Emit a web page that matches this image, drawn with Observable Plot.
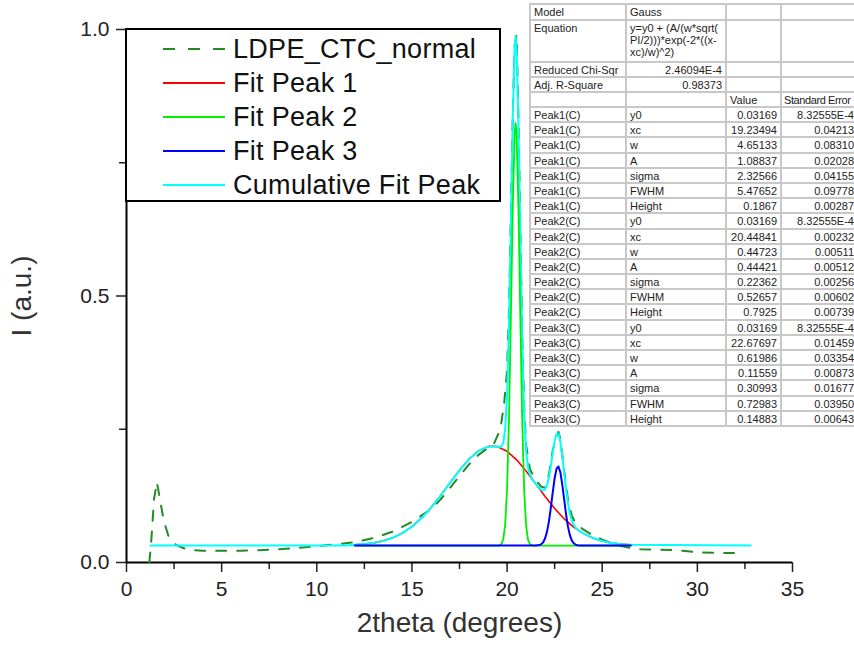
<!DOCTYPE html>
<html><head><meta charset="utf-8">
<script src="https://cdn.jsdelivr.net/npm/d3@7"></script>
<script src="https://cdn.jsdelivr.net/npm/@observablehq/plot@0.6"></script>
<style>
html,body{margin:0;padding:0;background:#fff;overflow:hidden;width:854px;height:650px;}
#wrap{position:relative;width:854px;height:650px;overflow:hidden;font-family:"Liberation Sans",Arial,sans-serif;}
#wrap svg.plot{position:absolute;left:0;top:0;}
#legend{position:absolute;left:125px;top:28px;width:372px;height:170px;border:2px solid #000;background:#fff;}
.lrow{position:absolute;left:0;height:34px;width:372px;}
.lrow svg{position:absolute;left:36px;top:0;}
.lrow span{position:absolute;left:106px;top:2px;font-size:27px;letter-spacing:0.3px;line-height:30px;color:#111;white-space:nowrap;}
#tbl{position:absolute;left:529px;top:3px;width:325px;border-collapse:collapse;table-layout:fixed;border:2px solid #000;border-right:none;background:#fff;font-size:11px;color:#222;}
#tbl td{border:2px solid #c8c8c8;padding:1px 3px 0 3px;vertical-align:top;line-height:12px;white-space:nowrap;overflow:hidden;}
#tbl td.r{text-align:right;}
#tbl td.last{border-right:none;padding-right:1px;}
#tbl td.hdr{padding-left:2px;letter-spacing:-0.4px;}
</style></head><body><div id="wrap"></div>
<script>
// ---------- data ----------
const dataX = [1.2,1.3,1.45,1.6,1.75,1.95,2.2,2.6,3.2,4,5,6,7,8,9,10,11,12,13,14,15,16,16.5,17,17.5,18,18.5,19,19.3,19.65,19.85,20.0,20.1,20.2,20.3,20.4,20.5,20.6,20.7,20.8,20.9,21.0,21.2,21.5,21.8,22.0,22.2,22.4,22.6,22.7,22.8,23.0,23.2,23.4,23.6,24.0,24.5,25,25.5,26,26.5,27,28,29,29.5,30,31,32.5];
const dataY = [0,0.04,0.12,0.151,0.12,0.08,0.05,0.033,0.024,0.022,0.022,0.022,0.023,0.025,0.027,0.031,0.034,0.038,0.046,0.058,0.076,0.1,0.118,0.14,0.162,0.184,0.202,0.215,0.222,0.25,0.3,0.36,0.47,0.65,0.84,0.97,0.99,0.83,0.62,0.42,0.29,0.22,0.175,0.155,0.142,0.14,0.165,0.21,0.238,0.245,0.232,0.172,0.118,0.088,0.074,0.062,0.051,0.043,0.036,0.031,0.027,0.025,0.024,0.023,0.021,0.019,0.018,0.018];

const peak1X = [12,12.5,13,13.5,14,14.5,15,15.5,16,16.5,17,17.5,18,18.5,19,19.25,19.5,20,20.5,21,21.5,22,22.5,23,23.5,24,24.5,25,25.5,26,26.5];
const peak1Y = [0.0332,0.0345,0.0368,0.0406,0.0465,0.0552,0.0673,0.0831,0.1026,0.1252,0.1494,0.1730,0.1938,0.2093,0.2174,0.2184,0.2172,0.2086,0.1927,0.1717,0.1479,0.1238,0.1014,0.0820,0.0664,0.0546,0.0461,0.0403,0.0366,0.0344,0.0331];

const peak2X = [12,19.4,19.5,19.6,19.7,19.8,19.9,20.0,20.1,20.2,20.3,20.4,20.45,20.5,20.6,20.7,20.8,20.9,21.0,21.1,21.2,21.3,21.4,21.5,26.5];
const peak2Y = [0.0317,0.0317,0.0318,0.0323,0.0346,0.0436,0.0710,0.1382,0.2678,0.4602,0.6683,0.8061,0.8242,0.8030,0.6607,0.4517,0.2613,0.1344,0.0693,0.0430,0.0345,0.0323,0.0318,0.0317,0.0317];

const peak3X = [12,21.3,21.5,21.7,21.8,21.9,22.0,22.1,22.2,22.3,22.4,22.5,22.6,22.7,22.8,22.9,23.0,23.1,23.2,23.3,23.4,23.5,23.6,23.7,23.9,24.1,26.5];
const peak3Y = [0.0317,0.0317,0.0318,0.0327,0.0344,0.0381,0.0454,0.0580,0.0772,0.1027,0.1315,0.1581,0.1760,0.1801,0.1693,0.1466,0.1182,0.0903,0.0675,0.0514,0.0415,0.0361,0.0335,0.0323,0.0318,0.0317,0.0317];

const cumX = [1.26,11.5,12,12.5,13,13.5,14,14.5,15,15.5,16,16.5,17,17.5,18,18.5,19,19.4,19.5,19.6,19.7,19.8,19.9,20.0,20.1,20.2,20.3,20.4,20.45,20.5,20.6,20.7,20.8,20.9,21.0,21.1,21.2,21.3,21.4,21.5,21.6,21.7,21.8,21.9,22.0,22.1,22.2,22.3,22.4,22.5,22.6,22.7,22.8,22.9,23.0,23.1,23.2,23.3,23.4,23.5,23.6,23.7,23.8,24.0,24.5,25,25.5,26,26.5,32.8];
const cumY = [0.0317,0.0318,0.0332,0.0345,0.0368,0.0406,0.0465,0.0552,0.0673,0.0831,0.1026,0.1252,0.1494,0.1730,0.1938,0.2093,0.2174,0.2179,0.2173,0.2167,0.2176,0.2249,0.2503,0.3151,0.4420,0.6315,0.8364,0.9708,0.9871,0.9641,0.8179,0.6048,0.4101,0.2789,0.2093,0.1784,0.1651,0.1581,0.1529,0.1480,0.1433,0.1392,0.1360,0.1349,0.1375,0.1454,0.1601,0.1810,0.2055,0.2278,0.2415,0.2416,0.2269,0.2005,0.1685,0.1373,0.1112,0.0920,0.0790,0.0708,0.0655,0.0619,0.0591,0.0546,0.0461,0.0403,0.0366,0.0344,0.0331,0.0317];

const xMajorTicks = [0,5,10,15,20,25,30,35];
const xMinorTicks = [2.5,7.5,12.5,17.5,22.5,27.5,32.5];
const yMajorTicks = [0,0.5,1.0];
const yMinorTicks = [0.25,0.75];

const xTitle = "2theta (degrees)";
const yTitle = "I (a.u.)";

const legendLabels = ["LDPE_CTC_normal","Fit Peak 1","Fit Peak 2","Fit Peak 3","Cumulative Fit Peak"];

// fit report table
const tableHead = [
  ["Model", "Gauss", "", ""],
  ["Equation", ["y=y0 + (A/(w*sqrt(", "PI/2)))*exp(-2*((x-", "xc)/w)^2)"], "", ""],
  ["Reduced Chi-Sqr", "2.46094E-4", "", ""],
  ["Adj. R-Square", "0.98373", "", ""],
  ["", "", "Value", "Standard Error"]
];
const paramPeaks = ["Peak1(C)","Peak2(C)","Peak3(C)"];
const paramNames = ["y0","xc","w","A","sigma","FWHM","Height"];
const paramValues = [
  ["0.03169","19.23494","4.65133","1.08837","2.32566","5.47652","0.1867"],
  ["0.03169","20.44841","0.44723","0.44421","0.22362","0.52657","0.7925"],
  ["0.03169","22.67697","0.61986","0.11559","0.30993","0.72983","0.14883"]
];
const paramErrors = [
  ["8.32555E-4","0.04213","0.08310","0.02028","0.04155","0.09778","0.00287"],
  ["8.32555E-4","0.00232","0.00511","0.00512","0.00256","0.00602","0.00739"],
  ["8.32555E-4","0.01459","0.03354","0.00873","0.01677","0.03950","0.00643"]
];

// ---------- styles ----------
const colData = "#228b22", colP1 = "#ff0000", colP2 = "#00ee00", colP3 = "#0000ff", colCum = "#00ffff";
const legendStyles = [
  {stroke: colData, dash: "12,13"},
  {stroke: colP1, dash: null},
  {stroke: colP2, dash: null},
  {stroke: colP3, dash: null},
  {stroke: colCum, dash: null}
];

const rows = (xs, ys) => xs.map((x, i) => ({x, y: ys[i]}));

const plot = Plot.plot({
  width: 854, height: 650,
  marginLeft: 126, marginRight: 62, marginTop: 29, marginBottom: 88,
  x: {domain: [0, 35]},
  y: {domain: [0, 1]},
  style: {fontFamily: "'Liberation Sans', Arial, sans-serif", background: "transparent", color: "#222"},
  marks: [
    Plot.axisX(xMinorTicks, {tickSize: 7, tickFormat: () => "", strokeWidth: 1.5, label: null}),
    Plot.axisX(xMajorTicks, {tickSize: 10, tickPadding: 9, fontSize: 21, strokeWidth: 1.5, label: null, tickFormat: d3.format("d")}),
    Plot.axisY(yMinorTicks, {tickSize: 7, tickFormat: () => "", strokeWidth: 1.5, label: null}),
    Plot.axisY(yMajorTicks, {tickSize: 10, tickPadding: 7, fontSize: 21, strokeWidth: 1.5, label: null, tickFormat: d3.format(".1f")}),
    Plot.ruleY([0], {stroke: "#000", strokeWidth: 2}),
    Plot.ruleX([0], {stroke: "#000", strokeWidth: 2}),
    Plot.line(rows(dataX, dataY), {x: "x", y: "y", stroke: colData, strokeWidth: 2, strokeDasharray: "10,11"}),
    Plot.line(rows(peak1X, peak1Y), {x: "x", y: "y", stroke: colP1, strokeWidth: 1.6}),
    Plot.line(rows(cumX, cumY), {x: "x", y: "y", stroke: colCum, strokeWidth: 2}),
    Plot.line(rows(peak2X, peak2Y), {x: "x", y: "y", stroke: colP2, strokeWidth: 1.8}),
    Plot.line(rows(peak3X, peak3Y), {x: "x", y: "y", stroke: colP3, strokeWidth: 2}),
    Plot.text([xTitle], {frameAnchor: "bottom", dy: 69, fontSize: 28, fill: "#333"}),
    Plot.text([yTitle], {frameAnchor: "left", dx: -104, rotate: -90, textAnchor: "middle", fontSize: 28, fill: "#333"})
  ]
});
plot.classList.add("plot");
const wrap = document.getElementById("wrap");
wrap.appendChild(plot);

// legend
const legend = document.createElement("div");
legend.id = "legend";
legendLabels.forEach((lab, i) => {
  const r = document.createElement("div");
  r.className = "lrow";
  r.style.top = (2 + i * 34) + "px";
  const st = legendStyles[i];
  r.innerHTML = `<svg width="64" height="34"><line x1="0" x2="62" y1="17" y2="17" stroke="${st.stroke}" stroke-width="2" ${st.dash ? `stroke-dasharray="${st.dash}"` : ""}/></svg><span></span>`;
  r.querySelector("span").textContent = lab;
  legend.appendChild(r);
});
wrap.appendChild(legend);

// fit table
const tbl = document.createElement("table");
tbl.id = "tbl";
const cg = document.createElement("colgroup");
[96, 100, 55, 74].forEach(w => { const c = document.createElement("col"); c.style.width = w + "px"; cg.appendChild(c); });
tbl.appendChild(cg);
const addRow = (cells, h, aligns, isHeader) => {
  const tr = document.createElement("tr");
  tr.style.height = h + "px";
  cells.forEach((c, j) => {
    const td = document.createElement("td");
    const cls = [];
    if (aligns[j]) cls.push("r");
    if (j === cells.length - 1) cls.push("last");
    if (isHeader && j === cells.length - 1) cls.push("hdr");
    td.className = cls.join(" ");
    if (Array.isArray(c)) { c.forEach((ln, k) => { if (k) td.appendChild(document.createElement("br")); td.appendChild(document.createTextNode(ln)); }); }
    else td.textContent = c;
    tr.appendChild(td);
  });
  tbl.appendChild(tr);
};
addRow(tableHead[0], 16, [0,0,0,0]);
addRow(tableHead[1], 42, [0,0,0,0]);
addRow(tableHead[2], 15, [0,1,0,0]);
addRow(tableHead[3], 15, [0,1,0,0]);
addRow(tableHead[4], 15, [0,0,0,0], true);
paramPeaks.forEach((pk, i) => {
  paramNames.forEach((nm, j) => {
    addRow([pk, nm, paramValues[i][j], paramErrors[i][j]], 15.2, [0,0,1,1]);
  });
});
wrap.appendChild(tbl);
</script></body></html>
